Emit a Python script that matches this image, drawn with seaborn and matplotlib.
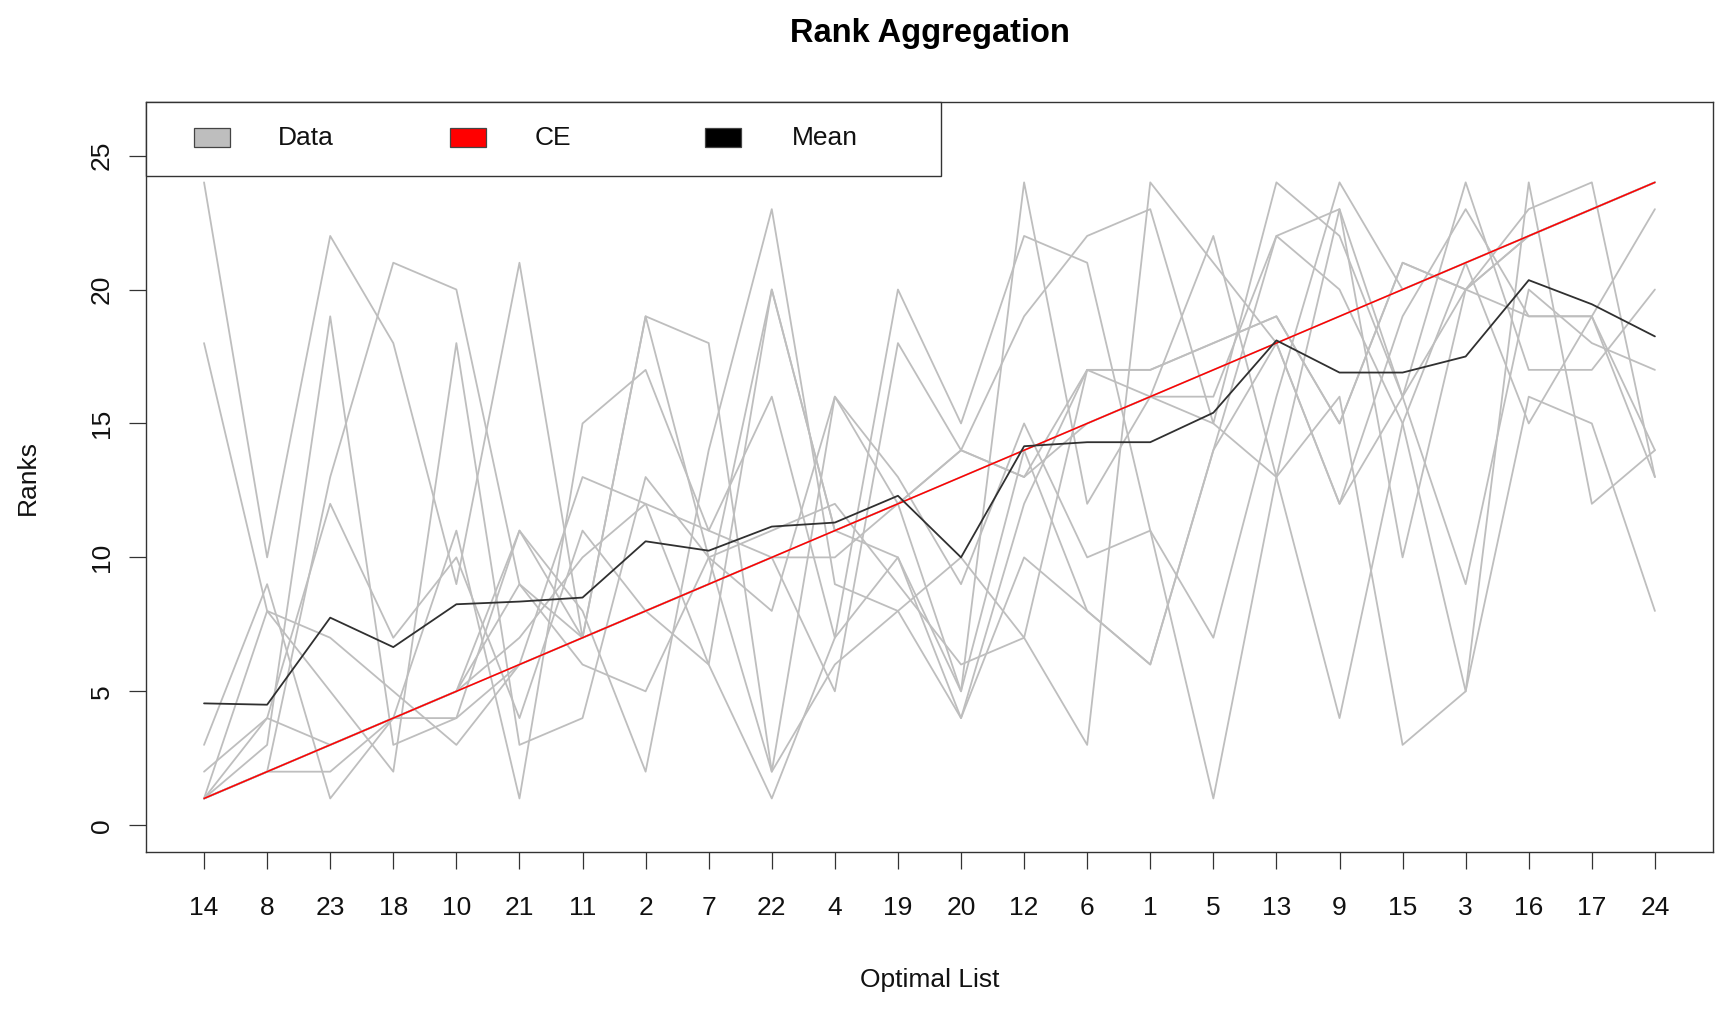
import numpy as np
import pandas as pd
import matplotlib
matplotlib.use("Agg")
import matplotlib.pyplot as plt
from matplotlib.patches import Rectangle
import seaborn as sns

# x-axis order (the optimal list) and the ranks
optimal_list = [14, 8, 23, 18, 10, 21, 11, 2, 7, 22, 4, 19,
                20, 12, 6, 1, 5, 13, 9, 15, 3, 16, 17, 24]

ce_ranks = [1, 2, 3, 4, 5, 6, 7, 8, 9, 10, 11, 12,
            13, 14, 15, 16, 17, 18, 19, 20, 21, 22, 23, 24]

mean_ranks = [4.55, 4.5, 7.75, 6.65, 8.25, 8.35, 8.5, 10.6, 10.25, 11.15, 11.3, 12.3,
              10.0, 14.15, 14.3, 14.3, 15.4, 18.1, 16.9, 16.9, 17.5, 20.35, 19.45, 18.25]

data_A = [24, 10, 22, 18, 9, 21, 7, 19, 18, 2, 16, 12, 14, 13, 17, 17, 18, 19, 15, 21, 20, 22, 23, 24]
data_B = [18, 8, 7, 5, 3, 6, 13, 12, 6, 20, 11, 10, 5, 24, 12, 16, 22, 13, 23, 16, 24, 17, 17, 20]
data_C = [3, 9, 1, 4, 11, 1, 15, 17, 11, 16, 7, 20, 15, 22, 21, 11, 7, 16, 24, 20, 21, 15, 19, 13]
data_D = [2, 4, 12, 7, 10, 4, 11, 8, 9, 10, 5, 18, 14, 19, 22, 23, 15, 24, 22, 16, 9, 20, 18, 17]
data_E = [1, 2, 3, 4, 5, 6, 7, 8, 9, 10, 11, 12, 13, 14, 15, 16, 17, 18, 19, 20, 21, 22, 23, 24]
data_F = [1, 3, 19, 3, 4, 11, 8, 2, 14, 23, 9, 8, 4, 10, 8, 6, 14, 22, 20, 15, 5, 16, 15, 8]
data_G = [1, 2, 13, 21, 20, 9, 6, 5, 10, 11, 12, 9, 6, 7, 3, 24, 21, 18, 12, 19, 23, 19, 19, 23]
data_H = [1, 8, 5, 2, 18, 3, 4, 13, 10, 8, 16, 13, 9, 15, 10, 11, 1, 13, 16, 3, 5, 24, 12, 14]
data_I = [1, 4, 3, 4, 5, 11, 7, 8, 6, 1, 7, 10, 4, 12, 17, 17, 18, 19, 15, 21, 20, 22, 23, 24]
data_J = [1, 2, 3, 4, 5, 7, 10, 12, 11, 10, 10, 12, 14, 13, 15, 16, 16, 22, 23, 10, 20, 23, 24, 13]
data_K = [1, 2, 2, 4, 4, 6, 7, 19, 10, 2, 6, 8, 10, 7, 17, 16, 15, 13, 4, 15, 21, 22, 23, 24]
data_L = [1, 2, 3, 4, 5, 9, 7, 8, 9, 20, 11, 12, 5, 14, 8, 6, 14, 18, 12, 16, 20, 19, 19, 14]

series = {"A": data_A, "B": data_B, "C": data_C, "D": data_D, "E": data_E, "F": data_F,
          "G": data_G, "H": data_H, "I": data_I, "J": data_J, "K": data_K, "L": data_L}

positions = np.arange(1, len(optimal_list) + 1)

rows = []
for name, vals in series.items():
    for p, v in zip(positions, vals):
        rows.append({"series": name, "pos": p, "rank": v})
df = pd.DataFrame(rows)
df_ce = pd.DataFrame({"pos": positions, "rank": ce_ranks})
df_mean = pd.DataFrame({"pos": positions, "rank": mean_ranks})

sns.set_theme(style="white")
plt.rcParams["font.family"] = ["Liberation Sans", "DejaVu Sans"]

fig = plt.figure(figsize=(17.32, 10.10), dpi=100)
ax = fig.add_axes([0.0843, 0.1564, 0.9047, 0.7426])

GRAY = "#BEBEBE"
sns.lineplot(data=df, x="pos", y="rank", units="series", estimator=None,
             color=GRAY, linewidth=1.3, ax=ax, legend=False)
sns.lineplot(data=df_ce, x="pos", y="rank", color="#FF0000", linewidth=1.1, ax=ax)
sns.lineplot(data=df_mean, x="pos", y="rank", color="#303030", linewidth=1.3, ax=ax)

ax.set_xlim(0.08, 24.92)
ax.set_ylim(-1.0, 27.0)
ax.set_xticks(positions)
ax.set_xticklabels([str(v) for v in optimal_list])
ax.set_yticks([0, 5, 10, 15, 20, 25])
ax.set_yticklabels(["0", "5", "10", "15", "20", "25"], rotation=90, va="center")
ax.tick_params(axis="x", direction="out", length=12, width=0.9, color="#333333",
               pad=20, labelsize=19, bottom=True, labelcolor="#111111")
ax.tick_params(axis="y", direction="out", length=12, width=0.9, color="#333333",
               pad=11, labelsize=19, left=True, labelcolor="#111111")

for sp in ax.spines.values():
    sp.set_visible(True)
    sp.set_color("#333333")
    sp.set_linewidth(1.0)

ax.set_xlabel("Optimal List", fontsize=19, labelpad=34, color="#111111")
ax.set_ylabel("Ranks", fontsize=19, labelpad=36, color="#111111")
ax.set_title("Rank Aggregation", fontsize=23.5, fontweight="bold", pad=43, color="#000000")

# legend box drawn like base R's horizontal legend
ax.add_patch(Rectangle((0.0, 0.9013), 0.5073, 0.0987, transform=ax.transAxes,
                       facecolor="white", edgecolor="#333333", linewidth=1.0,
                       zorder=5, clip_on=False))
legend_items = [("Data", GRAY, 0.0306, 0.0842),
                ("CE", "#FF0000", 0.194, 0.2482),
                ("Mean", "#000000", 0.357, 0.4122)]
for label, col, px, tx in legend_items:
    ax.add_patch(Rectangle((px, 0.9395), 0.023, 0.0253, transform=ax.transAxes,
                           facecolor=col, edgecolor="#444444", linewidth=0.9,
                           zorder=6, clip_on=False))
    ax.text(tx, 0.952, label, transform=ax.transAxes, fontsize=19,
            va="center", ha="left", zorder=7, color="#111111")

plt.savefig("out.png", dpi=100)
plt.close()
